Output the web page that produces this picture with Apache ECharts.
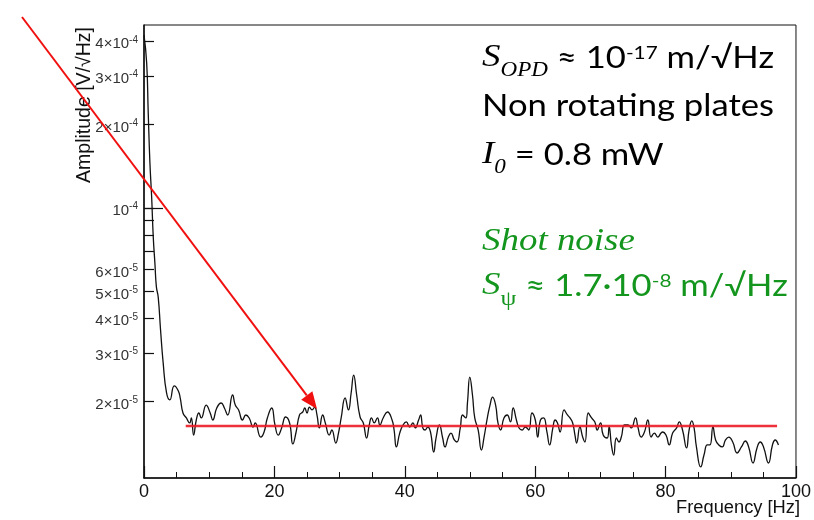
<!DOCTYPE html>
<html><head><meta charset="utf-8">
<script src="https://cdn.jsdelivr.net/npm/echarts@6/dist/echarts.min.js"></script>
<style>html,body{margin:0;padding:0;background:#fff}#c{width:814px;height:520px}</style>
</head><body><div id="c"></div>
<script>
// ---- data ----
const freqHz = [
 0, 0.41, 0.65, 0.91, 1.17, 1.42, 1.67, 1.90, 2.18, 2.54,
 2.94, 3.46, 3.96, 4.64, 5.25, 5.56, 5.98, 6.50, 7.00, 7.26,
 7.61, 8.02, 8.42, 8.78, 9.54, 10.15, 10.55, 11.16, 11.83, 12.33,
 12.83, 13.59, 14.00, 14.51, 15.11, 15.63, 16.13, 16.74, 17.05, 17.91,
 18.42, 18.92, 19.59, 20.09, 20.59, 21.11, 21.72, 22.33, 22.83, 23.33,
 23.85, 24.35, 24.66, 25.01, 25.37, 25.77, 26.18, 26.53, 26.90, 27.40,
 27.81, 28.42, 28.81, 29.42, 29.83, 30.24, 30.85, 31.35, 31.77, 32.16,
 32.62, 33.14, 33.64, 34.14, 34.55, 34.90, 35.31, 35.81, 36.18, 36.68,
 37.34, 38.05, 38.36, 38.71, 39.22, 39.73, 40.23, 40.75, 41.25, 41.60,
 42.12, 42.42, 42.77, 43.12, 43.53, 43.94, 44.44, 44.79, 45.31, 45.81,
 46.16, 46.68, 47.08, 47.60, 47.99, 48.51, 48.86, 49.36, 49.62, 49.97,
 50.38, 50.73, 51.25, 51.75, 52.16, 52.66, 53.07, 53.47, 53.93, 54.29,
 54.69, 55.21, 55.71, 56.21, 56.62, 57.12, 57.53, 57.99, 58.49, 59.01,
 59.51, 60.02, 60.38, 60.81, 61.29, 61.80, 62.21, 62.71, 63.06, 63.42,
 63.82, 64.43, 64.95, 65.34, 65.75, 66.10, 66.36, 66.86, 67.28, 67.63,
 68.14, 68.65, 69.15, 69.51, 70.02, 70.43, 71.03, 71.34, 71.69, 72.04,
 72.45, 72.86, 73.21, 73.71, 74.23, 74.73, 75.39, 75.75, 76.26, 76.76,
 77.28, 77.78, 78.28, 78.80, 79.30, 79.56, 80.06, 80.56, 81.08, 81.69,
 82.09, 82.60, 83.21, 83.61, 84.02, 84.37, 84.73, 85.39, 85.89, 86.41,
 86.80, 87.26, 87.67, 88.17, 88.69, 89.19, 89.70, 90.30, 90.97, 91.63,
 92.24, 92.74, 93.41, 94.02, 94.52, 95.02, 95.78, 96.39, 96.80, 97.31
];
// amplitude in units of 1e-5 V/sqrt(Hz)
const amplitudeE5 = [
 42.1, 33.4, 22.0, 14.5, 11.0, 7.86, 6.33, 5.19, 4.77, 3.63,
 2.76, 2.15, 2.03, 2.28, 2.19, 2.06, 1.82, 1.746, 1.675, 1.746,
 1.515, 1.717, 1.820, 1.746, 1.944, 1.820, 1.717, 1.897, 1.977, 1.897,
 1.790, 2.113, 1.944, 1.866, 1.717, 1.790, 1.746, 1.620, 1.675, 1.490,
 1.554, 1.746, 1.897, 1.647, 1.515, 1.607, 1.760, 1.675, 1.407, 1.554,
 1.790, 1.835, 1.897, 1.820, 1.912, 1.866, 1.912, 1.790, 1.607, 1.790,
 1.675, 1.515, 1.580, 1.418, 1.540, 1.746, 2.061, 1.866, 2.149, 2.494,
 2.113, 1.760, 1.675, 1.478, 1.647, 1.746, 1.675, 1.746, 1.647, 1.746,
 1.835, 1.717, 1.580, 1.372, 1.540, 1.647, 1.689, 1.620, 1.675, 1.607,
 1.717, 1.790, 1.607, 1.580, 1.620, 1.554, 1.316, 1.478, 1.647, 1.478,
 1.372, 1.490, 1.540, 1.454, 1.430, 1.607, 1.790, 1.746, 1.994, 2.453,
 2.113, 1.746, 1.580, 1.338, 1.490, 1.746, 1.944, 2.078, 1.944, 1.675,
 1.580, 1.746, 1.790, 1.689, 1.897, 1.717, 1.607, 1.580, 1.620, 1.580,
 1.820, 1.717, 1.490, 1.717, 1.746, 1.554, 1.395, 1.607, 1.717, 1.675,
 1.554, 1.866, 1.790, 1.746, 1.675, 1.515, 1.418, 1.620, 1.490, 1.430,
 1.820, 1.746, 1.689, 1.580, 1.675, 1.515, 1.478, 1.620, 1.395, 1.283,
 1.478, 1.430, 1.490, 1.647, 1.647, 1.607, 1.746, 1.620, 1.490, 1.554,
 1.717, 1.490, 1.540, 1.490, 1.540, 1.554, 1.515, 1.395, 1.540, 1.607,
 1.689, 1.580, 1.361, 1.580, 1.703, 1.607, 1.372, 1.162, 1.283, 1.395,
 1.395, 1.620, 1.454, 1.395, 1.372, 1.454, 1.490, 1.430, 1.305, 1.372,
 1.442, 1.372, 1.201, 1.361, 1.430, 1.372, 1.201, 1.395, 1.454, 1.395
];
const shotNoiseFreq = [6.4, 97.1];
const shotNoiseLevel = 1.633e-5;
const xRange = [0, 100];
const yRange = [1.06e-5, 4.58e-4];
const yTickValues = [2e-5, 3e-5, 4e-5, 5e-5, 6e-5, 7e-5, 8e-5, 9e-5, 1e-4, 2e-4, 3e-4, 4e-4];
const yLabelValues = [2e-5, 3e-5, 4e-5, 5e-5, 6e-5, 1e-4, 2e-4, 3e-4, 4e-4];
const yLongTick = [1e-4];
const xTitle = 'Frequency [Hz]';
const yTitle = 'Amplitude [V/\u221AHz]';

// ---- chart ----
const L = Math.log10;
const chart = echarts.init(document.getElementById('c'), null, {renderer: 'canvas'});
const curve = freqHz.map((f, i) => [f, L(amplitudeE5[i] * 1e-5)]);
const shotLine = shotNoiseFreq.map(f => [f, L(shotNoiseLevel)]);
const ink = '#111';
const rootFont = 'Liberation Sans, Arial, Helvetica, sans-serif';

function yFmt(v) {
  const e = Math.floor(v + 1e-9);
  const m = Math.round(Math.pow(10, v - e));
  return (m === 1 ? '{b|10}' : '{b|' + m + '\u00D710}') + '{p|' + e + '}';
}

// text box scaling (the reference box text is horizontally stretched)
const mctx = document.createElement('canvas').getContext('2d');
mctx.font = '30px Lato';
const sx = 292 / mctx.measureText('Non rotating plates').width;

const richBox = {
  t: {fontFamily: 'Lato', fontSize: 30},
  s: {fontFamily: 'Liberation Serif', fontStyle: 'italic', fontSize: 32},
  sub: {fontFamily: 'Liberation Serif', fontStyle: 'italic', fontSize: 20, padding: [26, 0, 0, 0]},
  subu: {fontFamily: 'Liberation Serif', fontSize: 22, padding: [26, 0, 0, 0]},
  sup: {fontFamily: 'Lato', fontSize: 18, padding: [0, 0, 9, 0]}
};
function boxText(txt, y, color) {
  return {
    type: 'text', x: 482, y: y, scaleX: sx, z: 100,
    style: {text: txt, x: 0, y: 0, fill: color, verticalAlign: 'middle', align: 'left', rich: richBox,
            fontFamily: 'Lato', fontSize: 30}
  };
}

// arrow geometry
const aS = [22, 17], aT = [317, 409];
const dx = aT[0] - aS[0], dy = aT[1] - aS[1], dl = Math.hypot(dx, dy);
const ux = dx / dl, uy = dy / dl, hl = 17, hw = 7;
const bc = [aT[0] - hl * ux, aT[1] - hl * uy];

const option = {
  animation: false,
  backgroundColor: '#fff',
  grid: {left: 144, right: 13, top: 25, bottom: 42, show: true, borderColor: ink, borderWidth: 1, containLabel: false},
  xAxis: {
    type: 'value', min: xRange[0], max: xRange[1], interval: 20,
    axisLine: {show: true, onZero: false, lineStyle: {color: ink, width: 1.5}},
    axisTick: {show: true, inside: true, length: 12, lineStyle: {color: ink, width: 1.2}},
    minorTick: {show: true, splitNumber: 4, length: 6, lineStyle: {color: ink, width: 1}},
    axisLabel: {fontSize: 18, fontFamily: rootFont, color: ink, margin: 5},
    splitLine: {show: false}, minorSplitLine: {show: false}
  },
  yAxis: [{
    type: 'value', min: L(yRange[0]), max: L(yRange[1]),
    axisLine: {show: true, onZero: false, lineStyle: {color: ink, width: 1.5}},
    axisTick: {show: true, inside: true, length: 10, customValues: yTickValues.map(L), lineStyle: {color: ink, width: 1.2}},
    axisLabel: {
      customValues: yLabelValues.map(L), formatter: yFmt, margin: 6,
      rich: {
        b: {fontSize: 15, fontFamily: rootFont, color: '#333', padding: [6, 0, 0, 0]},
        p: {fontSize: 10, fontFamily: rootFont, color: '#333', padding: [0, 0, 3, 0]}
      }
    },
    splitLine: {show: false}
  }, {
    type: 'value', min: L(yRange[0]), max: L(yRange[1]), position: 'left',
    axisLine: {show: false},
    axisTick: {show: true, inside: true, length: 19, customValues: yLongTick.map(L), lineStyle: {color: ink, width: 1.2}},
    axisLabel: {show: false}, splitLine: {show: false}
  }],
  series: [{
    type: 'line', data: curve, showSymbol: false, smooth: 0.5,
    lineStyle: {color: ink, width: 1.3}, z: 3, silent: true
  }, {
    type: 'line', data: shotLine, showSymbol: false,
    lineStyle: {color: 'rgba(235,25,35,0.9)', width: 2.5}, z: 4, silent: true
  }],
  graphic: [
    {type: 'text', x: 85, y: 27, rotation: Math.PI / 2, z: 50,
     style: {text: yTitle, fill: ink, fontSize: 19.5, fontFamily: rootFont, align: 'right', verticalAlign: 'middle'}},
    {type: 'text', x: 800, y: 508, z: 50,
     style: {text: xTitle, fill: ink, fontSize: 18.3, fontFamily: rootFont, align: 'right', verticalAlign: 'middle'}},
    boxText('{s|S}{sub|OPD}{t| \u2248 10}{sup|-17}{t| m/\u221AHz}', 58, '#000'),
    boxText('{t|Non rotating plates}', 106, '#000'),
    boxText('{s|I}{sub|0}{t| = 0.8 mW}', 155, '#000'),
    boxText('{s|Shot noise}', 242, '#14961e'),
    boxText('{s|S}{subu|\u03C8}{t| \u2248 1.7\u00B710}{sup|-8}{t| m/\u221AHz}', 286, '#14961e'),
    {type: 'line', z: 120, shape: {x1: aS[0], y1: aS[1], x2: bc[0], y2: bc[1]}, style: {stroke: '#f01010', lineWidth: 2}},
    {type: 'polygon', z: 120, shape: {points: [aT, [bc[0] - hw * uy, bc[1] + hw * ux], [bc[0] + hw * uy, bc[1] - hw * ux]]},
     style: {fill: '#f01010'}}
  ]
};
chart.setOption(option);
</script>
</body></html>
